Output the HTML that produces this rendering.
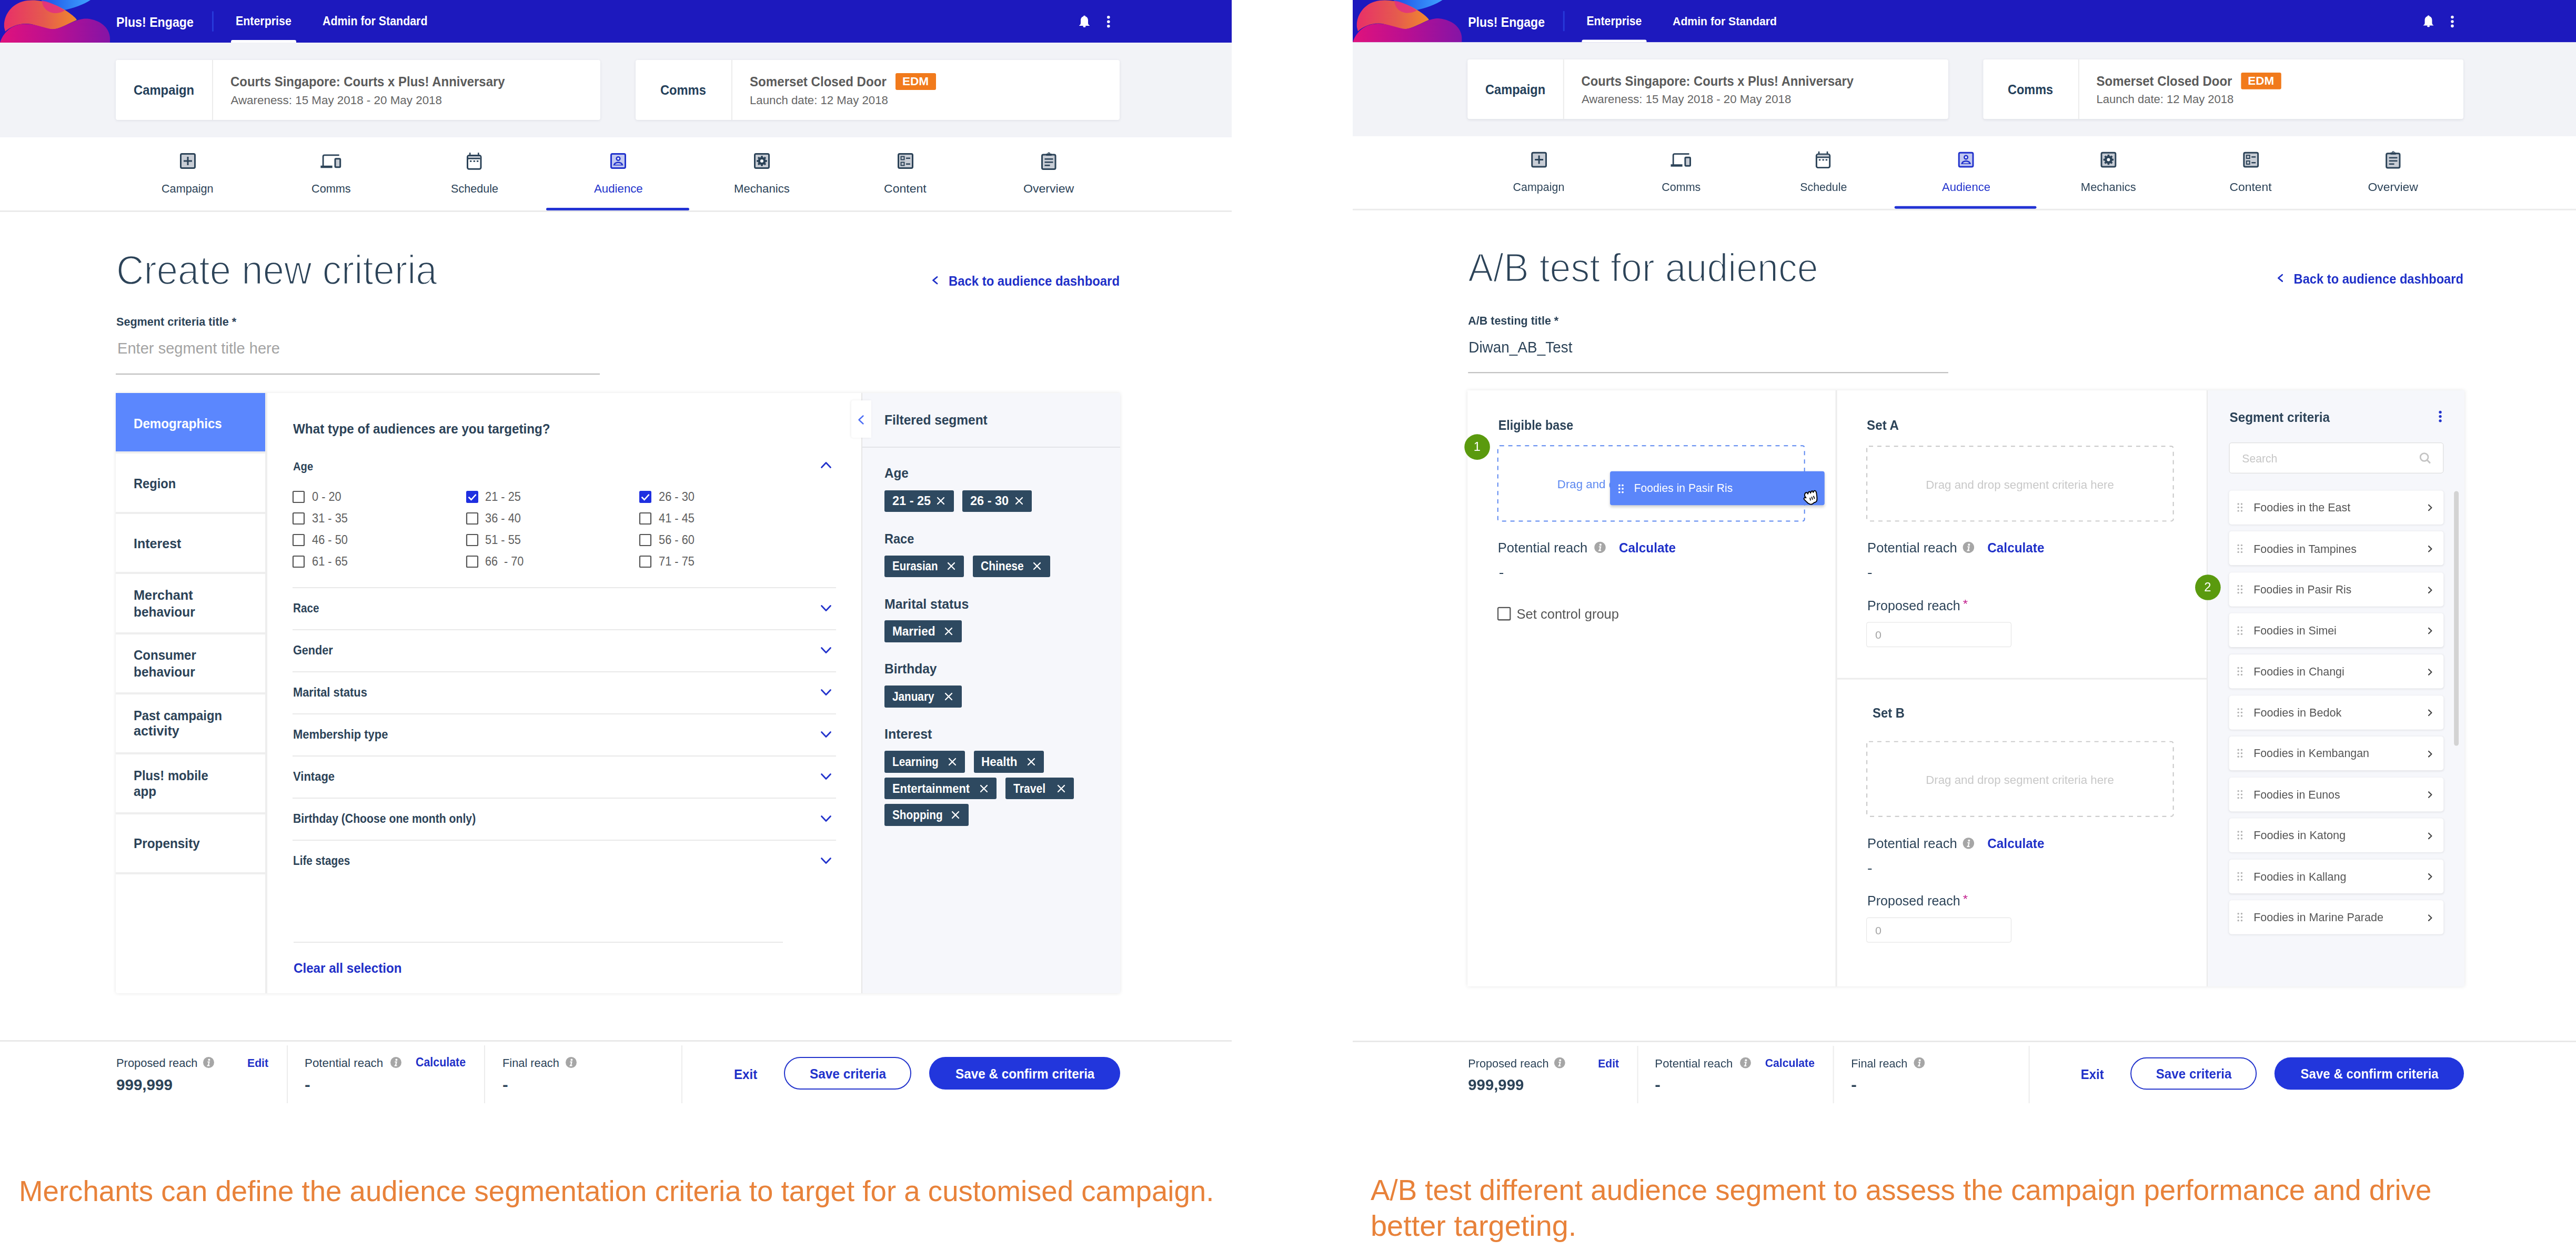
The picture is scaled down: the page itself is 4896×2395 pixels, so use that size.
<!DOCTYPE html><html><head><meta charset="utf-8"><title>Plus! Engage</title><style>
*{margin:0;padding:0}
html,body{width:4896px;height:2395px;background:#fff;overflow:hidden}
body{position:relative;font-family:"Liberation Sans",Arial,sans-serif}
.p{position:absolute;top:0;width:2350px;height:2417px;overflow:hidden;transform-origin:0 0}
.t{position:absolute;white-space:pre;line-height:1;transform-origin:0 0}
.r{position:absolute;display:block}
svg.r{overflow:visible}

</style></head><body>
<div class="p" style="left:0"><div class="r" style="left:0.0px;top:0.0px;width:2341.0px;height:81.3px;background:#1d19be"></div><svg class="r" style="left:0.0px;top:0.0px;" width="210" height="81" viewBox="0 0 210 81"><defs>
<linearGradient id="lgB" x1="0" y1="0" x2="1" y2="0"><stop offset="0" stop-color="#1c4fe6"/><stop offset="1" stop-color="#3ea2ff"/></linearGradient>
<linearGradient id="lgP" x1="0" y1="0" x2="1" y2="0"><stop offset="0" stop-color="#e83068"/><stop offset="0.55" stop-color="#e55a4e"/><stop offset="1" stop-color="#f08a2c"/></linearGradient>
<linearGradient id="lgM" x1="0" y1="0" x2="1" y2="0"><stop offset="0" stop-color="#e0127c"/><stop offset="0.5" stop-color="#b80f92"/><stop offset="1" stop-color="#8514a6"/></linearGradient>
</defs>
<path d="M78 0 L172 0 C160 8 140 16 118 20 C100 22 86 14 78 0 Z" fill="url(#lgB)"/>
<path d="M8 52 C6 28 24 4 52 1 C78 -2 108 8 128 22 C138 29 144 34 146 38 C132 44 118 52 106 55 C92 58 78 50 60 46 C40 42 20 50 10 60 Z" fill="url(#lgP)"/>
<path d="M80 1 C80 14 90 24 104 25 C112 25 118 23 123 20 C112 12 96 4 80 1 Z" fill="#e0288a" opacity="0.75"/>
<path d="M0 81 L1 78 C8 60 24 46 46 45.5 C66 45 80 52 96 55 C108 57 120 50 140 41 C152 36 160 35 166 35.5 C190 38 208 52 209 72 L209 81 Z" fill="url(#lgM)"/></svg><span class="t" style="left:221.0px;top:28.6px;font-size:26.20px;font-weight:700;color:#fff;transform:scaleX(0.8856);">Plus! Engage</span><div class="r" style="left:402.8px;top:21.3px;width:3.4px;height:38.5px;background:#2739d9;border-radius:1.5px"></div><span class="t" style="left:448.0px;top:29.4px;font-size:23.20px;font-weight:700;color:#fff;transform:scaleX(0.9228);">Enterprise</span><div class="r" style="left:439.0px;top:76.3px;width:123.5px;height:5.0px;background:#fff;border-radius:3px 3px 0 0"></div><span class="t" style="left:612.5px;top:29.4px;font-size:23.10px;font-weight:700;color:#fff;transform:scaleX(0.9253);">Admin for Standard</span><svg class="r" style="left:2051.3px;top:29.4px;" width="20" height="23" viewBox="0 0 20 23"><path d="M10 0.5 C11.2 0.5 12 1.3 12 2.3 C15.5 3.3 17 6.3 17 10 L17 15 C17 17 18.5 18.6 20 19.6 L20 20 L0 20 L0 19.6 C1.5 18.6 3 17 3 15 L3 10 C3 6.3 4.5 3.3 8 2.3 C8 1.3 8.8 0.5 10 0.5 Z" fill="#fff"/><ellipse cx="10" cy="21.2" rx="2.6" ry="1.8" fill="#fff"/></svg><svg class="r" style="left:2103.7px;top:29.7px;" width="5.6" height="22.6" viewBox="0 0 5.6 22.6"><circle cx="2.8" cy="2.8" r="2.8" fill="#fff"/><circle cx="2.8" cy="11.3" r="2.8" fill="#fff"/><circle cx="2.8" cy="19.8" r="2.8" fill="#fff"/></svg><div class="r" style="left:0.0px;top:81.3px;width:2341.0px;height:179.7px;background:#f2f3f7"></div><div class="r" style="left:220.4px;top:114.0px;width:920.2px;height:114.0px;background:#fff;border-radius:4px;box-shadow:0 1px 5px rgba(40,50,80,0.10)"></div><div class="r" style="left:402.8px;top:114.0px;width:2.0px;height:114.0px;background:#ececec"></div><span class="t" style="left:254.0px;top:158.0px;font-size:26.00px;font-weight:700;color:#24405a;transform:scaleX(0.9160);">Campaign</span><span class="t" style="left:438.4px;top:141.7px;font-size:26.30px;font-weight:700;color:#5b5b5b;transform:scaleX(0.9098);">Courts Singapore: Courts x Plus! Anniversary</span><span class="t" style="left:438.4px;top:179.6px;font-size:22.40px;font-weight:400;color:#666;">Awareness: 15 May 2018 - 20 May 2018</span><div class="r" style="left:1208.0px;top:114.0px;width:920.0px;height:114.0px;background:#fff;border-radius:4px;box-shadow:0 1px 5px rgba(40,50,80,0.10)"></div><div class="r" style="left:1390.3px;top:114.0px;width:2.0px;height:114.0px;background:#ececec"></div><span class="t" style="left:1255.0px;top:158.0px;font-size:26.00px;font-weight:700;color:#24405a;transform:scaleX(0.9107);">Comms</span><span class="t" style="left:1425.0px;top:142.0px;font-size:26.00px;font-weight:700;color:#5b5b5b;transform:scaleX(0.9269);">Somerset Closed Door</span><div class="r" style="left:1702.0px;top:138.8px;width:76.5px;height:32.2px;background:#f17a1c;border-radius:3px"></div><span class="t" style="left:1715.0px;top:144.4px;font-size:22.00px;font-weight:700;color:#fff;transform:scaleX(1.0262);">EDM</span><span class="t" style="left:1425.0px;top:179.6px;font-size:22.40px;font-weight:400;color:#666;transform:scaleX(0.9913);">Launch date: 12 May 2018</span><div class="r" style="left:0.0px;top:399.8px;width:2341.0px;height:3.0px;background:#ebebeb"></div><div class="r" style="left:1038.0px;top:395.0px;width:272.0px;height:4.6px;background:#2233d4;border-radius:2.5px"></div><svg class="r" style="left:341.5px;top:290.5px;" width="30" height="30" viewBox="0 0 30 30"><rect x="1.5" y="1.5" width="27" height="27" rx="2.5" fill="#c8cdd5" stroke="#2c4358" stroke-width="3"/><path d="M15 7 V23 M7 15 H23" stroke="#2c4358" stroke-width="3"/></svg><span class="t" style="left:307.2px;top:347.5px;font-size:22.60px;font-weight:400;color:#2c4358;transform:scaleX(0.9572);">Campaign</span><svg class="r" style="left:609.3px;top:290.5px;" width="40" height="30" viewBox="0 0 40 30"><path d="M5.1 25 V6.6 Q5.1 3.9 7.8 3.9 H35.7" fill="none" stroke="#2c4358" stroke-width="2.8"/><rect x="0.4" y="23.8" width="22.3" height="4.5" fill="#2c4358"/><rect x="28" y="10.7" width="9.7" height="16.1" rx="1.5" fill="#c8cdd5" stroke="#2c4358" stroke-width="3"/></svg><span class="t" style="left:592.0px;top:347.5px;font-size:22.60px;font-weight:400;color:#2c4358;transform:scaleX(0.9589);">Comms</span><svg class="r" style="left:887.3px;top:290.2px;" width="29" height="32.5" viewBox="0 0 29 32.5"><rect x="1.5" y="5.5" width="25.5" height="25.7" rx="3" fill="#fff" stroke="#2c4358" stroke-width="3"/><rect x="3" y="7" width="22.5" height="3" fill="#c8cdd5"/><rect x="3" y="10" width="22.5" height="2.7" fill="#2c4358"/><rect x="4.9" y="0.2" width="2.6" height="5.5" fill="#2c4358"/><rect x="21" y="0.2" width="2.6" height="5.5" fill="#2c4358"/><rect x="6" y="15" width="3.4" height="2.7" fill="#2c4358"/><rect x="12.7" y="15" width="3.4" height="2.7" fill="#2c4358"/><rect x="19" y="15" width="3.4" height="2.7" fill="#2c4358"/></svg><span class="t" style="left:857.1px;top:347.5px;font-size:22.60px;font-weight:400;color:#2c4358;transform:scaleX(0.9555);">Schedule</span><svg class="r" style="left:1159.9px;top:290.5px;" width="30" height="30" viewBox="0 0 30 30"><rect x="1.5" y="1.5" width="27" height="27" rx="2.5" fill="#c3c9f0" stroke="#2233cc" stroke-width="3"/><circle cx="15" cy="10.5" r="3.3" fill="#fff" stroke="#2233cc" stroke-width="2.6"/><path d="M5.5 23.5 C6.5 18.5 10 16.5 15 16.5 C20 16.5 23.5 18.5 24.5 23.5 Z" fill="#2233cc"/><path d="M9 22 C10 19.8 12 19 15 19 C18 19 20 19.8 21 22 Z" fill="#c3c9f0"/></svg><span class="t" style="left:1128.5px;top:347.5px;font-size:22.60px;font-weight:400;color:#2233cc;transform:scaleX(0.9843);">Audience</span><svg class="r" style="left:1432.7px;top:290.5px;" width="30" height="30" viewBox="0 0 30 30"><rect x="1.5" y="1.5" width="27" height="27" rx="2.5" fill="#c8cdd5" stroke="#2c4358" stroke-width="3"/><circle cx="15" cy="15" r="7.6" fill="#2c4358"/><rect x="13.2" y="5.2" width="3.6" height="4" fill="#2c4358" transform="rotate(0 15 15)"/><rect x="13.2" y="5.2" width="3.6" height="4" fill="#2c4358" transform="rotate(45 15 15)"/><rect x="13.2" y="5.2" width="3.6" height="4" fill="#2c4358" transform="rotate(90 15 15)"/><rect x="13.2" y="5.2" width="3.6" height="4" fill="#2c4358" transform="rotate(135 15 15)"/><rect x="13.2" y="5.2" width="3.6" height="4" fill="#2c4358" transform="rotate(180 15 15)"/><rect x="13.2" y="5.2" width="3.6" height="4" fill="#2c4358" transform="rotate(225 15 15)"/><rect x="13.2" y="5.2" width="3.6" height="4" fill="#2c4358" transform="rotate(270 15 15)"/><rect x="13.2" y="5.2" width="3.6" height="4" fill="#2c4358" transform="rotate(315 15 15)"/><circle cx="15" cy="15" r="3" fill="#fff"/></svg><span class="t" style="left:1394.8px;top:347.5px;font-size:22.60px;font-weight:400;color:#2c4358;transform:scaleX(0.9795);">Mechanics</span><svg class="r" style="left:1705.5px;top:290.5px;" width="30" height="30" viewBox="0 0 30 30"><rect x="1.5" y="1.5" width="27" height="27" rx="2.5" fill="#c8cdd5" stroke="#2c4358" stroke-width="3"/><rect x="6.5" y="6.5" width="6" height="6" fill="none" stroke="#2c4358" stroke-width="2"/><rect x="6.5" y="17.5" width="6" height="6" fill="none" stroke="#2c4358" stroke-width="2"/><rect x="16" y="8.5" width="8" height="2.5" fill="#2c4358"/><rect x="16" y="19.5" width="8" height="2.5" fill="#2c4358"/></svg><span class="t" style="left:1680.2px;top:347.5px;font-size:22.60px;font-weight:400;color:#2c4358;transform:scaleX(1.0191);">Content</span><svg class="r" style="left:1979.1px;top:289.8px;" width="28.5" height="32" viewBox="0 0 28.5 32"><rect x="1.5" y="4" width="25.5" height="27.5" rx="2.5" fill="#c8cdd5" stroke="#2c4358" stroke-width="3"/><rect x="9" y="2" width="11" height="4" rx="1" fill="#2c4358"/><circle cx="14.5" cy="2" r="1.8" fill="none" stroke="#2c4358" stroke-width="1.5"/><rect x="6.5" y="11" width="16" height="2.6" fill="#2c4358"/><rect x="6.5" y="17" width="16" height="2.6" fill="#2c4358"/><rect x="6.5" y="23" width="10" height="2.6" fill="#2c4358"/></svg><span class="t" style="left:1945.2px;top:347.5px;font-size:22.60px;font-weight:400;color:#2c4358;transform:scaleX(1.0214);">Overview</span><span class="t" style="left:220.5px;top:473.5px;font-size:78.00px;font-weight:400;color:#2c4358;transform:scaleX(0.9315);-webkit-text-stroke:2.3px #fff;paint-order:fill stroke;">Create new criteria</span><svg class="r" style="left:1772.0px;top:525.0px;" width="10.5" height="15.5" viewBox="0 0 10.5 15.5"><path d="M9.0 1.5 L1.5 7.75 L9.0 14.0" fill="none" stroke="#1f30c8" stroke-width="2.8" stroke-linecap="round" stroke-linejoin="round"/></svg><span class="t" style="left:1802.8px;top:521.0px;font-size:26.00px;font-weight:700;color:#1f30c8;transform:scaleX(0.9180);">Back to audience dashboard</span><span class="t" style="left:220.8px;top:600.3px;font-size:22.80px;font-weight:700;color:#2c4358;transform:scaleX(0.9477);">Segment criteria title *</span><span class="t" style="left:222.6px;top:647.2px;font-size:29.30px;font-weight:400;color:#a3a3a3;transform:scaleX(0.9933);">Enter segment title here</span><div class="r" style="left:220.0px;top:709.5px;width:920.0px;height:2.0px;background:#b9b9b9"></div><div class="r" style="left:220.0px;top:747.0px;width:1909.0px;height:1141.0px;background:#fff;border-radius:4px;box-shadow:0 0 7px rgba(0,0,0,0.10)"></div><div class="r" style="left:220.0px;top:747.0px;width:284.0px;height:111.0px;background:#5b87fe"></div><div class="r" style="left:220.0px;top:858.0px;width:284.0px;height:4.0px;background:#eeeeee"></div><div class="r" style="left:220.0px;top:972.6px;width:284.0px;height:4.0px;background:#eeeeee"></div><div class="r" style="left:220.0px;top:1087.0px;width:284.0px;height:4.0px;background:#eeeeee"></div><div class="r" style="left:220.0px;top:1201.6px;width:284.0px;height:4.0px;background:#eeeeee"></div><div class="r" style="left:220.0px;top:1315.5px;width:284.0px;height:4.0px;background:#eeeeee"></div><div class="r" style="left:220.0px;top:1430.0px;width:284.0px;height:4.0px;background:#eeeeee"></div><div class="r" style="left:220.0px;top:1544.0px;width:284.0px;height:4.0px;background:#eeeeee"></div><div class="r" style="left:220.0px;top:1658.0px;width:284.0px;height:4.0px;background:#eeeeee"></div><div class="r" style="left:504.0px;top:747.0px;width:3.5px;height:1141.0px;background:#eeeeee"></div><span class="t" style="left:253.6px;top:791.8px;font-size:26.20px;font-weight:700;color:#fff;transform:scaleX(0.9221);">Demographics</span><span class="t" style="left:253.6px;top:905.8px;font-size:26.20px;font-weight:700;color:#2c4358;transform:scaleX(0.9041);">Region</span><span class="t" style="left:253.6px;top:1019.5px;font-size:26.20px;font-weight:700;color:#2c4358;transform:scaleX(0.9556);">Interest</span><span class="t" style="left:253.6px;top:1117.5px;font-size:26.20px;font-weight:700;color:#2c4358;transform:scaleX(0.9683);">Merchant</span><span class="t" style="left:253.6px;top:1150.0px;font-size:26.20px;font-weight:700;color:#2c4358;transform:scaleX(0.9321);">behaviour</span><span class="t" style="left:253.6px;top:1231.5px;font-size:26.20px;font-weight:700;color:#2c4358;transform:scaleX(0.9175);">Consumer</span><span class="t" style="left:253.6px;top:1263.8px;font-size:26.20px;font-weight:700;color:#2c4358;transform:scaleX(0.9321);">behaviour</span><span class="t" style="left:253.6px;top:1347.1px;font-size:26.20px;font-weight:700;color:#2c4358;transform:scaleX(0.9087);">Past campaign</span><span class="t" style="left:253.6px;top:1376.4px;font-size:26.20px;font-weight:700;color:#2c4358;transform:scaleX(0.9617);">activity</span><span class="t" style="left:253.6px;top:1461.4px;font-size:26.20px;font-weight:700;color:#2c4358;transform:scaleX(0.9099);">Plus! mobile</span><span class="t" style="left:253.6px;top:1490.7px;font-size:26.20px;font-weight:700;color:#2c4358;transform:scaleX(0.9244);">app</span><span class="t" style="left:253.6px;top:1589.8px;font-size:26.20px;font-weight:700;color:#2c4358;transform:scaleX(0.9293);">Propensity</span><span class="t" style="left:557.0px;top:802.0px;font-size:26.00px;font-weight:700;color:#2c4358;transform:scaleX(0.9317);">What type of audiences are you targeting?</span><span class="t" style="left:557.0px;top:875.5px;font-size:21.80px;font-weight:700;color:#2c4358;transform:scaleX(0.9250);">Age</span><svg class="r" style="left:1560.0px;top:878.0px;" width="20" height="12" viewBox="0 0 20 12"><path d="M1.5 10.5 L10.0 1.5 L18.5 10.5" fill="none" stroke="#2233cc" stroke-width="2.8" stroke-linecap="round" stroke-linejoin="round"/></svg><svg class="r" style="left:555.8px;top:932.9px;" width="23" height="23" viewBox="0 0 23 23"><rect x="1" y="1" width="21" height="21" rx="1.5" fill="#fff" stroke="#555" stroke-width="2.2"/></svg><span class="t" style="left:593.0px;top:933.1px;font-size:23.00px;font-weight:400;color:#606060;transform:scaleX(0.9456);">0 - 20</span><svg class="r" style="left:555.8px;top:973.8px;" width="23" height="23" viewBox="0 0 23 23"><rect x="1" y="1" width="21" height="21" rx="1.5" fill="#fff" stroke="#555" stroke-width="2.2"/></svg><span class="t" style="left:593.0px;top:974.0px;font-size:23.00px;font-weight:400;color:#606060;transform:scaleX(0.9484);">31 - 35</span><svg class="r" style="left:555.8px;top:1014.7px;" width="23" height="23" viewBox="0 0 23 23"><rect x="1" y="1" width="21" height="21" rx="1.5" fill="#fff" stroke="#555" stroke-width="2.2"/></svg><span class="t" style="left:593.0px;top:1014.9px;font-size:23.00px;font-weight:400;color:#606060;transform:scaleX(0.9484);">46 - 50</span><svg class="r" style="left:555.8px;top:1055.6px;" width="23" height="23" viewBox="0 0 23 23"><rect x="1" y="1" width="21" height="21" rx="1.5" fill="#fff" stroke="#555" stroke-width="2.2"/></svg><span class="t" style="left:593.0px;top:1055.8px;font-size:23.00px;font-weight:400;color:#606060;transform:scaleX(0.9484);">61 - 65</span><svg class="r" style="left:885.8px;top:932.9px;" width="23" height="23" viewBox="0 0 23 23"><rect x="0" y="0" width="23" height="23" rx="2.5" fill="#1f2fe0"/><path d="M4.60 11.73 L9.66 16.79 L18.63 6.90" fill="none" stroke="#fff" stroke-width="2.6"/></svg><span class="t" style="left:922.0px;top:933.1px;font-size:23.00px;font-weight:400;color:#606060;transform:scaleX(0.9484);">21 - 25</span><svg class="r" style="left:885.8px;top:973.8px;" width="23" height="23" viewBox="0 0 23 23"><rect x="1" y="1" width="21" height="21" rx="1.5" fill="#fff" stroke="#555" stroke-width="2.2"/></svg><span class="t" style="left:922.0px;top:974.0px;font-size:23.00px;font-weight:400;color:#606060;transform:scaleX(0.9484);">36 - 40</span><svg class="r" style="left:885.8px;top:1014.7px;" width="23" height="23" viewBox="0 0 23 23"><rect x="1" y="1" width="21" height="21" rx="1.5" fill="#fff" stroke="#555" stroke-width="2.2"/></svg><span class="t" style="left:922.0px;top:1014.9px;font-size:23.00px;font-weight:400;color:#606060;transform:scaleX(0.9484);">51 - 55</span><svg class="r" style="left:885.8px;top:1055.6px;" width="23" height="23" viewBox="0 0 23 23"><rect x="1" y="1" width="21" height="21" rx="1.5" fill="#fff" stroke="#555" stroke-width="2.2"/></svg><span class="t" style="left:922.0px;top:1055.8px;font-size:23.00px;font-weight:400;color:#606060;transform:scaleX(0.9403);">66  - 70</span><svg class="r" style="left:1215.3px;top:932.9px;" width="23" height="23" viewBox="0 0 23 23"><rect x="0" y="0" width="23" height="23" rx="2.5" fill="#1f2fe0"/><path d="M4.60 11.73 L9.66 16.79 L18.63 6.90" fill="none" stroke="#fff" stroke-width="2.6"/></svg><span class="t" style="left:1252.0px;top:933.1px;font-size:23.00px;font-weight:400;color:#606060;transform:scaleX(0.9484);">26 - 30</span><svg class="r" style="left:1215.3px;top:973.8px;" width="23" height="23" viewBox="0 0 23 23"><rect x="1" y="1" width="21" height="21" rx="1.5" fill="#fff" stroke="#555" stroke-width="2.2"/></svg><span class="t" style="left:1252.0px;top:974.0px;font-size:23.00px;font-weight:400;color:#606060;transform:scaleX(0.9484);">41 - 45</span><svg class="r" style="left:1215.3px;top:1014.7px;" width="23" height="23" viewBox="0 0 23 23"><rect x="1" y="1" width="21" height="21" rx="1.5" fill="#fff" stroke="#555" stroke-width="2.2"/></svg><span class="t" style="left:1252.0px;top:1014.9px;font-size:23.00px;font-weight:400;color:#606060;transform:scaleX(0.9484);">56 - 60</span><svg class="r" style="left:1215.3px;top:1055.6px;" width="23" height="23" viewBox="0 0 23 23"><rect x="1" y="1" width="21" height="21" rx="1.5" fill="#fff" stroke="#555" stroke-width="2.2"/></svg><span class="t" style="left:1252.0px;top:1055.8px;font-size:23.00px;font-weight:400;color:#606060;transform:scaleX(0.9484);">71 - 75</span><div class="r" style="left:556.0px;top:1116.0px;width:1033.0px;height:2.0px;background:#e9e9e9"></div><div class="r" style="left:556.0px;top:1195.6px;width:1033.0px;height:2.0px;background:#e9e9e9"></div><div class="r" style="left:556.0px;top:1275.8px;width:1033.0px;height:2.0px;background:#e9e9e9"></div><div class="r" style="left:556.0px;top:1356.0px;width:1033.0px;height:2.0px;background:#e9e9e9"></div><div class="r" style="left:556.0px;top:1436.0px;width:1033.0px;height:2.0px;background:#e9e9e9"></div><div class="r" style="left:556.0px;top:1516.0px;width:1033.0px;height:2.0px;background:#e9e9e9"></div><div class="r" style="left:556.0px;top:1595.7px;width:1033.0px;height:2.0px;background:#e9e9e9"></div><span class="t" style="left:556.8px;top:1145.2px;font-size:23.00px;font-weight:700;color:#2c4358;transform:scaleX(0.8991);">Race</span><svg class="r" style="left:1560.0px;top:1150.2px;" width="20" height="12" viewBox="0 0 20 12"><path d="M1.5 1.5 L10.0 10.5 L18.5 1.5" fill="none" stroke="#2233cc" stroke-width="2.8" stroke-linecap="round" stroke-linejoin="round"/></svg><span class="t" style="left:556.8px;top:1224.9px;font-size:23.00px;font-weight:700;color:#2c4358;transform:scaleX(0.9404);">Gender</span><svg class="r" style="left:1560.0px;top:1229.9px;" width="20" height="12" viewBox="0 0 20 12"><path d="M1.5 1.5 L10.0 10.5 L18.5 1.5" fill="none" stroke="#2233cc" stroke-width="2.8" stroke-linecap="round" stroke-linejoin="round"/></svg><span class="t" style="left:556.8px;top:1305.1px;font-size:23.00px;font-weight:700;color:#2c4358;transform:scaleX(0.9501);">Marital status</span><svg class="r" style="left:1560.0px;top:1310.1px;" width="20" height="12" viewBox="0 0 20 12"><path d="M1.5 1.5 L10.0 10.5 L18.5 1.5" fill="none" stroke="#2233cc" stroke-width="2.8" stroke-linecap="round" stroke-linejoin="round"/></svg><span class="t" style="left:556.8px;top:1385.1px;font-size:23.00px;font-weight:700;color:#2c4358;transform:scaleX(0.9537);">Membership type</span><svg class="r" style="left:1560.0px;top:1390.1px;" width="20" height="12" viewBox="0 0 20 12"><path d="M1.5 1.5 L10.0 10.5 L18.5 1.5" fill="none" stroke="#2233cc" stroke-width="2.8" stroke-linecap="round" stroke-linejoin="round"/></svg><span class="t" style="left:556.8px;top:1464.9px;font-size:23.00px;font-weight:700;color:#2c4358;transform:scaleX(0.9566);">Vintage</span><svg class="r" style="left:1560.0px;top:1469.9px;" width="20" height="12" viewBox="0 0 20 12"><path d="M1.5 1.5 L10.0 10.5 L18.5 1.5" fill="none" stroke="#2233cc" stroke-width="2.8" stroke-linecap="round" stroke-linejoin="round"/></svg><span class="t" style="left:556.8px;top:1544.5px;font-size:23.00px;font-weight:700;color:#2c4358;transform:scaleX(0.9211);">Birthday (Choose one month only)</span><svg class="r" style="left:1560.0px;top:1549.5px;" width="20" height="12" viewBox="0 0 20 12"><path d="M1.5 1.5 L10.0 10.5 L18.5 1.5" fill="none" stroke="#2233cc" stroke-width="2.8" stroke-linecap="round" stroke-linejoin="round"/></svg><span class="t" style="left:556.8px;top:1625.1px;font-size:23.00px;font-weight:700;color:#2c4358;transform:scaleX(0.9010);">Life stages</span><svg class="r" style="left:1560.0px;top:1630.1px;" width="20" height="12" viewBox="0 0 20 12"><path d="M1.5 1.5 L10.0 10.5 L18.5 1.5" fill="none" stroke="#2233cc" stroke-width="2.8" stroke-linecap="round" stroke-linejoin="round"/></svg><div class="r" style="left:558.0px;top:1789.5px;width:930.0px;height:2.0px;background:#e9e9e9"></div><span class="t" style="left:558.0px;top:1826.7px;font-size:26.30px;font-weight:700;color:#1f30c8;transform:scaleX(0.9189);">Clear all selection</span><div class="r" style="left:1638.0px;top:747.0px;width:491.0px;height:1141.0px;background:#f6f7fb"></div><div class="r" style="left:1637.0px;top:747.0px;width:2.0px;height:1141.0px;background:#e6e6e6"></div><div class="r" style="left:1638.0px;top:848.5px;width:491.0px;height:2.0px;background:#e4e5e9"></div><div class="r" style="left:1618.0px;top:761.0px;width:38.0px;height:71.0px;background:#fff;border-radius:4px 0 0 4px;box-shadow:-1px 0 4px rgba(0,0,0,0.08)"></div><svg class="r" style="left:1631.0px;top:788.6px;" width="11" height="18" viewBox="0 0 11 18"><path d="M9.5 1.5 L1.5 9.0 L9.5 16.5" fill="none" stroke="#4d6ef5" stroke-width="2.4" stroke-linecap="round" stroke-linejoin="round"/></svg><span class="t" style="left:1681.0px;top:785.4px;font-size:26.20px;font-weight:700;color:#2c4358;transform:scaleX(0.9341);">Filtered segment</span><span class="t" style="left:1681.0px;top:885.8px;font-size:26.20px;font-weight:700;color:#2c4358;transform:scaleX(0.9250);">Age</span><span class="t" style="left:1681.0px;top:1010.8px;font-size:26.20px;font-weight:700;color:#2c4358;transform:scaleX(0.8991);">Race</span><span class="t" style="left:1681.0px;top:1134.5px;font-size:26.20px;font-weight:700;color:#2c4358;transform:scaleX(0.9501);">Marital status</span><span class="t" style="left:1681.0px;top:1258.3px;font-size:26.20px;font-weight:700;color:#2c4358;transform:scaleX(0.9369);">Birthday</span><span class="t" style="left:1681.0px;top:1382.2px;font-size:26.20px;font-weight:700;color:#2c4358;transform:scaleX(0.9556);">Interest</span><div class="r" style="left:1681.0px;top:931.5px;width:131.5px;height:41.5px;background:#2e4960;border-radius:3px"></div><span class="t" style="left:1695.5px;top:941.2px;font-size:23.00px;font-weight:700;color:#fff;transform:scaleX(1.0211);">21 - 25</span><svg class="r" style="left:1781.0px;top:945.3px;" width="14" height="14" viewBox="0 0 14 14"><path d="M1 1 L13 13 M13 1 L1 13" stroke="#fff" stroke-width="2.3" stroke-linecap="round"/></svg><div class="r" style="left:1829.0px;top:931.5px;width:132.0px;height:41.5px;background:#2e4960;border-radius:3px"></div><span class="t" style="left:1843.5px;top:941.2px;font-size:23.00px;font-weight:700;color:#fff;transform:scaleX(1.0211);">26 - 30</span><svg class="r" style="left:1929.5px;top:945.3px;" width="14" height="14" viewBox="0 0 14 14"><path d="M1 1 L13 13 M13 1 L1 13" stroke="#fff" stroke-width="2.3" stroke-linecap="round"/></svg><div class="r" style="left:1681.0px;top:1055.6px;width:151.0px;height:41.5px;background:#2e4960;border-radius:3px"></div><span class="t" style="left:1695.5px;top:1065.3px;font-size:23.00px;font-weight:700;color:#fff;transform:scaleX(0.8905);">Eurasian</span><svg class="r" style="left:1800.5px;top:1069.4px;" width="14" height="14" viewBox="0 0 14 14"><path d="M1 1 L13 13 M13 1 L1 13" stroke="#fff" stroke-width="2.3" stroke-linecap="round"/></svg><div class="r" style="left:1849.0px;top:1055.6px;width:146.6px;height:41.5px;background:#2e4960;border-radius:3px"></div><span class="t" style="left:1863.5px;top:1065.3px;font-size:23.00px;font-weight:700;color:#fff;transform:scaleX(0.9128);">Chinese</span><svg class="r" style="left:1964.1px;top:1069.4px;" width="14" height="14" viewBox="0 0 14 14"><path d="M1 1 L13 13 M13 1 L1 13" stroke="#fff" stroke-width="2.3" stroke-linecap="round"/></svg><div class="r" style="left:1681.0px;top:1179.4px;width:146.8px;height:41.5px;background:#2e4960;border-radius:3px"></div><span class="t" style="left:1695.5px;top:1189.1px;font-size:23.00px;font-weight:700;color:#fff;transform:scaleX(0.9802);">Married</span><svg class="r" style="left:1796.3px;top:1193.2px;" width="14" height="14" viewBox="0 0 14 14"><path d="M1 1 L13 13 M13 1 L1 13" stroke="#fff" stroke-width="2.3" stroke-linecap="round"/></svg><div class="r" style="left:1681.0px;top:1303.0px;width:146.8px;height:41.5px;background:#2e4960;border-radius:3px"></div><span class="t" style="left:1695.5px;top:1312.7px;font-size:23.00px;font-weight:700;color:#fff;transform:scaleX(0.9008);">January</span><svg class="r" style="left:1796.3px;top:1316.8px;" width="14" height="14" viewBox="0 0 14 14"><path d="M1 1 L13 13 M13 1 L1 13" stroke="#fff" stroke-width="2.3" stroke-linecap="round"/></svg><div class="r" style="left:1681.0px;top:1427.0px;width:153.0px;height:41.5px;background:#2e4960;border-radius:3px"></div><span class="t" style="left:1695.5px;top:1436.7px;font-size:23.00px;font-weight:700;color:#fff;transform:scaleX(0.9041);">Learning</span><svg class="r" style="left:1802.5px;top:1440.8px;" width="14" height="14" viewBox="0 0 14 14"><path d="M1 1 L13 13 M13 1 L1 13" stroke="#fff" stroke-width="2.3" stroke-linecap="round"/></svg><div class="r" style="left:1850.5px;top:1427.0px;width:133.5px;height:41.5px;background:#2e4960;border-radius:3px"></div><span class="t" style="left:1865.0px;top:1436.7px;font-size:23.00px;font-weight:700;color:#fff;transform:scaleX(0.9754);">Health</span><svg class="r" style="left:1952.5px;top:1440.8px;" width="14" height="14" viewBox="0 0 14 14"><path d="M1 1 L13 13 M13 1 L1 13" stroke="#fff" stroke-width="2.3" stroke-linecap="round"/></svg><div class="r" style="left:1681.0px;top:1477.8px;width:213.0px;height:41.5px;background:#2e4960;border-radius:3px"></div><span class="t" style="left:1695.5px;top:1487.5px;font-size:23.00px;font-weight:700;color:#fff;transform:scaleX(0.9510);">Entertainment</span><svg class="r" style="left:1862.5px;top:1491.6px;" width="14" height="14" viewBox="0 0 14 14"><path d="M1 1 L13 13 M13 1 L1 13" stroke="#fff" stroke-width="2.3" stroke-linecap="round"/></svg><div class="r" style="left:1911.0px;top:1477.8px;width:130.0px;height:41.5px;background:#2e4960;border-radius:3px"></div><span class="t" style="left:1925.5px;top:1487.5px;font-size:23.00px;font-weight:700;color:#fff;transform:scaleX(0.9184);">Travel</span><svg class="r" style="left:2009.5px;top:1491.6px;" width="14" height="14" viewBox="0 0 14 14"><path d="M1 1 L13 13 M13 1 L1 13" stroke="#fff" stroke-width="2.3" stroke-linecap="round"/></svg><div class="r" style="left:1681.0px;top:1528.0px;width:159.6px;height:41.5px;background:#2e4960;border-radius:3px"></div><span class="t" style="left:1695.5px;top:1537.7px;font-size:23.00px;font-weight:700;color:#fff;transform:scaleX(0.9028);">Shopping</span><svg class="r" style="left:1809.1px;top:1541.8px;" width="14" height="14" viewBox="0 0 14 14"><path d="M1 1 L13 13 M13 1 L1 13" stroke="#fff" stroke-width="2.3" stroke-linecap="round"/></svg><div class="r" style="left:0.0px;top:1977.0px;width:2341.0px;height:3.0px;background:#e9e9e9"></div><span class="t" style="left:221.0px;top:2008.8px;font-size:22.70px;font-weight:400;color:#2c4358;transform:scaleX(0.9645);">Proposed reach</span><svg class="r" style="left:385.6px;top:2009.2px;" width="21.0" height="21.0" viewBox="0 0 21.0 21.0"><circle cx="10.5" cy="10.5" r="10.5" fill="#a6a6a6"/><g transform="scale(1.000)"><circle cx="11.4" cy="5.6" r="2" fill="#fff"/><path d="M8.6 8.6 L12.9 8.6 L11.2 15.6 L12.8 15.6 L12.4 17.4 L7.4 17.4 L7.8 15.6 L8.9 15.6 L10.2 10.4 L8.2 10.4 Z" fill="#fff"/></g></svg><span class="t" style="left:470.4px;top:2008.6px;font-size:22.90px;font-weight:700;color:#1f30c8;transform:scaleX(0.9268);">Edit</span><span class="t" style="left:221.0px;top:2047.6px;font-size:28.80px;font-weight:700;color:#2c4358;transform:scaleX(1.0274);">999,999</span><div class="r" style="left:545.0px;top:1987.0px;width:2.0px;height:110.0px;background:#ececec"></div><span class="t" style="left:578.5px;top:2008.8px;font-size:22.70px;font-weight:400;color:#2c4358;transform:scaleX(0.9857);">Potential reach</span><svg class="r" style="left:741.8px;top:2009.2px;" width="21.0" height="21.0" viewBox="0 0 21.0 21.0"><circle cx="10.5" cy="10.5" r="10.5" fill="#a6a6a6"/><g transform="scale(1.000)"><circle cx="11.4" cy="5.6" r="2" fill="#fff"/><path d="M8.6 8.6 L12.9 8.6 L11.2 15.6 L12.8 15.6 L12.4 17.4 L7.4 17.4 L7.8 15.6 L8.9 15.6 L10.2 10.4 L8.2 10.4 Z" fill="#fff"/></g></svg><span class="t" style="left:790.0px;top:2008.4px;font-size:23.10px;font-weight:700;color:#1f30c8;transform:scaleX(0.9254);">Calculate</span><span class="t" style="left:578.5px;top:2047.6px;font-size:28.80px;font-weight:700;color:#2c4358;transform:scaleX(1.1199);">-</span><div class="r" style="left:920.0px;top:1987.0px;width:2.0px;height:110.0px;background:#ececec"></div><span class="t" style="left:955.0px;top:2008.8px;font-size:22.70px;font-weight:400;color:#2c4358;transform:scaleX(0.9611);">Final reach</span><svg class="r" style="left:1074.5px;top:2009.2px;" width="21.0" height="21.0" viewBox="0 0 21.0 21.0"><circle cx="10.5" cy="10.5" r="10.5" fill="#a6a6a6"/><g transform="scale(1.000)"><circle cx="11.4" cy="5.6" r="2" fill="#fff"/><path d="M8.6 8.6 L12.9 8.6 L11.2 15.6 L12.8 15.6 L12.4 17.4 L7.4 17.4 L7.8 15.6 L8.9 15.6 L10.2 10.4 L8.2 10.4 Z" fill="#fff"/></g></svg><span class="t" style="left:955.0px;top:2047.6px;font-size:28.80px;font-weight:700;color:#2c4358;transform:scaleX(1.1199);">-</span><div class="r" style="left:1295.4px;top:1987.0px;width:2.0px;height:110.0px;background:#ececec"></div><span class="t" style="left:1394.7px;top:2030.2px;font-size:25.70px;font-weight:700;color:#1f30c8;transform:scaleX(0.9395);">Exit</span><div class="r" style="left:1490.0px;top:2009.0px;width:242.4px;height:62.4px;box-sizing:border-box;border:2.2px solid #2233cc;border-radius:32px;background:#fff"></div><span class="t" style="left:1539.0px;top:2028.1px;font-size:26.50px;font-weight:700;color:#2233cc;transform:scaleX(0.9198);">Save criteria</span><div class="r" style="left:1766.0px;top:2009.0px;width:363.0px;height:62.4px;background:#2236dc;border-radius:32px"></div><span class="t" style="left:1815.7px;top:2028.3px;font-size:26.20px;font-weight:700;color:#fff;transform:scaleX(0.9267);">Save &amp; confirm criteria</span></div>
<div class="p" style="left:2571px;transform:scale(0.992)"><div class="r" style="left:0.0px;top:0.0px;width:2350.0px;height:81.3px;background:#1d19be"></div><svg class="r" style="left:0.0px;top:0.0px;" width="210" height="81" viewBox="0 0 210 81"><defs>
<linearGradient id="lgB" x1="0" y1="0" x2="1" y2="0"><stop offset="0" stop-color="#1c4fe6"/><stop offset="1" stop-color="#3ea2ff"/></linearGradient>
<linearGradient id="lgP" x1="0" y1="0" x2="1" y2="0"><stop offset="0" stop-color="#e83068"/><stop offset="0.55" stop-color="#e55a4e"/><stop offset="1" stop-color="#f08a2c"/></linearGradient>
<linearGradient id="lgM" x1="0" y1="0" x2="1" y2="0"><stop offset="0" stop-color="#e0127c"/><stop offset="0.5" stop-color="#b80f92"/><stop offset="1" stop-color="#8514a6"/></linearGradient>
</defs>
<path d="M78 0 L172 0 C160 8 140 16 118 20 C100 22 86 14 78 0 Z" fill="url(#lgB)"/>
<path d="M8 52 C6 28 24 4 52 1 C78 -2 108 8 128 22 C138 29 144 34 146 38 C132 44 118 52 106 55 C92 58 78 50 60 46 C40 42 20 50 10 60 Z" fill="url(#lgP)"/>
<path d="M80 1 C80 14 90 24 104 25 C112 25 118 23 123 20 C112 12 96 4 80 1 Z" fill="#e0288a" opacity="0.75"/>
<path d="M0 81 L1 78 C8 60 24 46 46 45.5 C66 45 80 52 96 55 C108 57 120 50 140 41 C152 36 160 35 166 35.5 C190 38 208 52 209 72 L209 81 Z" fill="url(#lgM)"/></svg><span class="t" style="left:221.0px;top:28.6px;font-size:26.20px;font-weight:700;color:#fff;transform:scaleX(0.8856);">Plus! Engage</span><div class="r" style="left:402.8px;top:21.3px;width:3.4px;height:38.5px;background:#2739d9;border-radius:1.5px"></div><span class="t" style="left:448.0px;top:29.4px;font-size:23.20px;font-weight:700;color:#fff;transform:scaleX(0.9228);">Enterprise</span><div class="r" style="left:439.0px;top:76.3px;width:123.5px;height:5.0px;background:#fff;border-radius:3px 3px 0 0"></div><span class="t" style="left:612.5px;top:29.4px;font-size:23.10px;font-weight:700;color:#fff;transform:scaleX(0.9253);">Admin for Standard</span><svg class="r" style="left:2051.3px;top:29.4px;" width="20" height="23" viewBox="0 0 20 23"><path d="M10 0.5 C11.2 0.5 12 1.3 12 2.3 C15.5 3.3 17 6.3 17 10 L17 15 C17 17 18.5 18.6 20 19.6 L20 20 L0 20 L0 19.6 C1.5 18.6 3 17 3 15 L3 10 C3 6.3 4.5 3.3 8 2.3 C8 1.3 8.8 0.5 10 0.5 Z" fill="#fff"/><ellipse cx="10" cy="21.2" rx="2.6" ry="1.8" fill="#fff"/></svg><svg class="r" style="left:2103.7px;top:29.7px;" width="5.6" height="22.6" viewBox="0 0 5.6 22.6"><circle cx="2.8" cy="2.8" r="2.8" fill="#fff"/><circle cx="2.8" cy="11.3" r="2.8" fill="#fff"/><circle cx="2.8" cy="19.8" r="2.8" fill="#fff"/></svg><div class="r" style="left:0.0px;top:81.3px;width:2350.0px;height:179.7px;background:#f2f3f7"></div><div class="r" style="left:220.4px;top:114.0px;width:920.2px;height:114.0px;background:#fff;border-radius:4px;box-shadow:0 1px 5px rgba(40,50,80,0.10)"></div><div class="r" style="left:402.8px;top:114.0px;width:2.0px;height:114.0px;background:#ececec"></div><span class="t" style="left:254.0px;top:158.0px;font-size:26.00px;font-weight:700;color:#24405a;transform:scaleX(0.9160);">Campaign</span><span class="t" style="left:438.4px;top:141.7px;font-size:26.30px;font-weight:700;color:#5b5b5b;transform:scaleX(0.9098);">Courts Singapore: Courts x Plus! Anniversary</span><span class="t" style="left:438.4px;top:179.6px;font-size:22.40px;font-weight:400;color:#666;">Awareness: 15 May 2018 - 20 May 2018</span><div class="r" style="left:1208.0px;top:114.0px;width:920.0px;height:114.0px;background:#fff;border-radius:4px;box-shadow:0 1px 5px rgba(40,50,80,0.10)"></div><div class="r" style="left:1390.3px;top:114.0px;width:2.0px;height:114.0px;background:#ececec"></div><span class="t" style="left:1255.0px;top:158.0px;font-size:26.00px;font-weight:700;color:#24405a;transform:scaleX(0.9107);">Comms</span><span class="t" style="left:1425.0px;top:142.0px;font-size:26.00px;font-weight:700;color:#5b5b5b;transform:scaleX(0.9269);">Somerset Closed Door</span><div class="r" style="left:1702.0px;top:138.8px;width:76.5px;height:32.2px;background:#f17a1c;border-radius:3px"></div><span class="t" style="left:1715.0px;top:144.4px;font-size:22.00px;font-weight:700;color:#fff;transform:scaleX(1.0262);">EDM</span><span class="t" style="left:1425.0px;top:179.6px;font-size:22.40px;font-weight:400;color:#666;transform:scaleX(0.9913);">Launch date: 12 May 2018</span><div class="r" style="left:0.0px;top:399.8px;width:2350.0px;height:3.0px;background:#ebebeb"></div><div class="r" style="left:1038.0px;top:395.0px;width:272.0px;height:4.6px;background:#2233d4;border-radius:2.5px"></div><svg class="r" style="left:341.5px;top:290.5px;" width="30" height="30" viewBox="0 0 30 30"><rect x="1.5" y="1.5" width="27" height="27" rx="2.5" fill="#c8cdd5" stroke="#2c4358" stroke-width="3"/><path d="M15 7 V23 M7 15 H23" stroke="#2c4358" stroke-width="3"/></svg><span class="t" style="left:307.2px;top:347.5px;font-size:22.60px;font-weight:400;color:#2c4358;transform:scaleX(0.9572);">Campaign</span><svg class="r" style="left:609.3px;top:290.5px;" width="40" height="30" viewBox="0 0 40 30"><path d="M5.1 25 V6.6 Q5.1 3.9 7.8 3.9 H35.7" fill="none" stroke="#2c4358" stroke-width="2.8"/><rect x="0.4" y="23.8" width="22.3" height="4.5" fill="#2c4358"/><rect x="28" y="10.7" width="9.7" height="16.1" rx="1.5" fill="#c8cdd5" stroke="#2c4358" stroke-width="3"/></svg><span class="t" style="left:592.0px;top:347.5px;font-size:22.60px;font-weight:400;color:#2c4358;transform:scaleX(0.9589);">Comms</span><svg class="r" style="left:887.3px;top:290.2px;" width="29" height="32.5" viewBox="0 0 29 32.5"><rect x="1.5" y="5.5" width="25.5" height="25.7" rx="3" fill="#fff" stroke="#2c4358" stroke-width="3"/><rect x="3" y="7" width="22.5" height="3" fill="#c8cdd5"/><rect x="3" y="10" width="22.5" height="2.7" fill="#2c4358"/><rect x="4.9" y="0.2" width="2.6" height="5.5" fill="#2c4358"/><rect x="21" y="0.2" width="2.6" height="5.5" fill="#2c4358"/><rect x="6" y="15" width="3.4" height="2.7" fill="#2c4358"/><rect x="12.7" y="15" width="3.4" height="2.7" fill="#2c4358"/><rect x="19" y="15" width="3.4" height="2.7" fill="#2c4358"/></svg><span class="t" style="left:857.1px;top:347.5px;font-size:22.60px;font-weight:400;color:#2c4358;transform:scaleX(0.9555);">Schedule</span><svg class="r" style="left:1159.9px;top:290.5px;" width="30" height="30" viewBox="0 0 30 30"><rect x="1.5" y="1.5" width="27" height="27" rx="2.5" fill="#c3c9f0" stroke="#2233cc" stroke-width="3"/><circle cx="15" cy="10.5" r="3.3" fill="#fff" stroke="#2233cc" stroke-width="2.6"/><path d="M5.5 23.5 C6.5 18.5 10 16.5 15 16.5 C20 16.5 23.5 18.5 24.5 23.5 Z" fill="#2233cc"/><path d="M9 22 C10 19.8 12 19 15 19 C18 19 20 19.8 21 22 Z" fill="#c3c9f0"/></svg><span class="t" style="left:1128.5px;top:347.5px;font-size:22.60px;font-weight:400;color:#2233cc;transform:scaleX(0.9843);">Audience</span><svg class="r" style="left:1432.7px;top:290.5px;" width="30" height="30" viewBox="0 0 30 30"><rect x="1.5" y="1.5" width="27" height="27" rx="2.5" fill="#c8cdd5" stroke="#2c4358" stroke-width="3"/><circle cx="15" cy="15" r="7.6" fill="#2c4358"/><rect x="13.2" y="5.2" width="3.6" height="4" fill="#2c4358" transform="rotate(0 15 15)"/><rect x="13.2" y="5.2" width="3.6" height="4" fill="#2c4358" transform="rotate(45 15 15)"/><rect x="13.2" y="5.2" width="3.6" height="4" fill="#2c4358" transform="rotate(90 15 15)"/><rect x="13.2" y="5.2" width="3.6" height="4" fill="#2c4358" transform="rotate(135 15 15)"/><rect x="13.2" y="5.2" width="3.6" height="4" fill="#2c4358" transform="rotate(180 15 15)"/><rect x="13.2" y="5.2" width="3.6" height="4" fill="#2c4358" transform="rotate(225 15 15)"/><rect x="13.2" y="5.2" width="3.6" height="4" fill="#2c4358" transform="rotate(270 15 15)"/><rect x="13.2" y="5.2" width="3.6" height="4" fill="#2c4358" transform="rotate(315 15 15)"/><circle cx="15" cy="15" r="3" fill="#fff"/></svg><span class="t" style="left:1394.8px;top:347.5px;font-size:22.60px;font-weight:400;color:#2c4358;transform:scaleX(0.9795);">Mechanics</span><svg class="r" style="left:1705.5px;top:290.5px;" width="30" height="30" viewBox="0 0 30 30"><rect x="1.5" y="1.5" width="27" height="27" rx="2.5" fill="#c8cdd5" stroke="#2c4358" stroke-width="3"/><rect x="6.5" y="6.5" width="6" height="6" fill="none" stroke="#2c4358" stroke-width="2"/><rect x="6.5" y="17.5" width="6" height="6" fill="none" stroke="#2c4358" stroke-width="2"/><rect x="16" y="8.5" width="8" height="2.5" fill="#2c4358"/><rect x="16" y="19.5" width="8" height="2.5" fill="#2c4358"/></svg><span class="t" style="left:1680.2px;top:347.5px;font-size:22.60px;font-weight:400;color:#2c4358;transform:scaleX(1.0191);">Content</span><svg class="r" style="left:1979.1px;top:289.8px;" width="28.5" height="32" viewBox="0 0 28.5 32"><rect x="1.5" y="4" width="25.5" height="27.5" rx="2.5" fill="#c8cdd5" stroke="#2c4358" stroke-width="3"/><rect x="9" y="2" width="11" height="4" rx="1" fill="#2c4358"/><circle cx="14.5" cy="2" r="1.8" fill="none" stroke="#2c4358" stroke-width="1.5"/><rect x="6.5" y="11" width="16" height="2.6" fill="#2c4358"/><rect x="6.5" y="17" width="16" height="2.6" fill="#2c4358"/><rect x="6.5" y="23" width="10" height="2.6" fill="#2c4358"/></svg><span class="t" style="left:1945.2px;top:347.5px;font-size:22.60px;font-weight:400;color:#2c4358;transform:scaleX(1.0214);">Overview</span><span class="t" style="left:221.2px;top:474.7px;font-size:76.00px;font-weight:400;color:#2c4358;transform:scaleX(0.9507);-webkit-text-stroke:2.3px #fff;paint-order:fill stroke;">A/B test for audience</span><svg class="r" style="left:1772.0px;top:525.0px;" width="10.5" height="15.5" viewBox="0 0 10.5 15.5"><path d="M9.0 1.5 L1.5 7.75 L9.0 14.0" fill="none" stroke="#1f30c8" stroke-width="2.8" stroke-linecap="round" stroke-linejoin="round"/></svg><span class="t" style="left:1802.8px;top:521.0px;font-size:26.00px;font-weight:700;color:#1f30c8;transform:scaleX(0.9180);">Back to audience dashboard</span><span class="t" style="left:221.2px;top:604.4px;font-size:22.10px;font-weight:700;color:#2c4358;transform:scaleX(0.9809);">A/B testing title *</span><span class="t" style="left:222.3px;top:650.7px;font-size:29.00px;font-weight:400;color:#2c4358;transform:scaleX(0.9710);">Diwan_AB_Test</span><div class="r" style="left:220.8px;top:712.9px;width:920.0px;height:2.0px;background:#b9b9b9"></div><div class="r" style="left:220.0px;top:747.7px;width:1910.0px;height:1142.0px;background:#fff;box-shadow:0 0 7px rgba(0,0,0,0.10)"></div><div class="r" style="left:925.0px;top:747.7px;width:3.0px;height:1142.0px;background:#ececec"></div><div class="r" style="left:1637.5px;top:747.7px;width:492.5px;height:1142.0px;background:#f6f7fb"></div><div class="r" style="left:1636.0px;top:747.7px;width:2.0px;height:1142.0px;background:#e9e9e9"></div><span class="t" style="left:278.5px;top:801.5px;font-size:26.10px;font-weight:700;color:#2c4358;transform:scaleX(0.8995);">Eligible base</span><svg class="r" style="left:276.8px;top:853.4px;" width="589.6169354838712" height="146.57258064516122" viewBox="0 0 589.6169354838712 146.57258064516122"><rect x="1" y="1" width="587.6169354838712" height="144.57258064516122" rx="4" fill="none" stroke="#5b87f0" stroke-width="2" stroke-dasharray="8 8"/></svg><span class="t" style="left:391.7px;top:915.8px;font-size:22.80px;font-weight:400;color:#5b87f0;transform:scaleX(0.9844);">Drag and drop segment criteria here</span><span class="t" style="left:278.2px;top:1036.3px;font-size:26.15px;font-weight:400;color:#2c4358;transform:scaleX(0.9857);">Potential reach</span><svg class="r" style="left:463.4px;top:1038.2px;" width="21.6" height="21.6" viewBox="0 0 21.6 21.6"><circle cx="10.8" cy="10.8" r="10.8" fill="#a6a6a6"/><g transform="scale(1.029)"><circle cx="11.4" cy="5.6" r="2" fill="#fff"/><path d="M8.6 8.6 L12.9 8.6 L11.2 15.6 L12.8 15.6 L12.4 17.4 L7.4 17.4 L7.8 15.6 L8.9 15.6 L10.2 10.4 L8.2 10.4 Z" fill="#fff"/></g></svg><span class="t" style="left:509.8px;top:1036.0px;font-size:26.50px;font-weight:700;color:#1f30c8;transform:scaleX(0.9254);">Calculate</span><span class="t" style="left:280.1px;top:1083.7px;font-size:26.15px;font-weight:400;color:#2c4358;transform:scaleX(1.1154);">-</span><svg class="r" style="left:277.2px;top:1163.1px;" width="26" height="26" viewBox="0 0 26 26"><rect x="1.2" y="1.2" width="23.6" height="23.6" rx="2" fill="#fff" stroke="#555" stroke-width="2.4"/></svg><span class="t" style="left:313.5px;top:1163.6px;font-size:25.90px;font-weight:400;color:#555;transform:scaleX(0.9946);">Set control group</span><svg class="r" style="left:213.7px;top:831.9px;" width="49.0" height="49.0" viewBox="0 0 49.0 49.0"><circle cx="24.5" cy="24.5" r="24.5" fill="#5a9a0e"/></svg><span class="t" style="left:218.2056451612905px;top:843.8508064516129px;width:40px;text-align:center;font-size:24px;color:#fff;font-family:'Liberation Sans',Arial,sans-serif">1</span><span class="t" style="left:984.5px;top:801.6px;font-size:26.10px;font-weight:700;color:#2c4358;transform:scaleX(0.9337);">Set A</span><svg class="r" style="left:983.9px;top:853.6px;" width="589.2137096774194" height="145.36290322580646" viewBox="0 0 589.2137096774194 145.36290322580646"><rect x="1" y="1" width="587.2137096774194" height="143.36290322580646" rx="4" fill="none" stroke="#c6c6c6" stroke-width="2" stroke-dasharray="8 8"/></svg><span class="t" style="left:1098.2px;top:917.1px;font-size:22.80px;font-weight:400;color:#c8c8c8;transform:scaleX(0.9844);">Drag and drop segment criteria here</span><span class="t" style="left:985.8px;top:1036.3px;font-size:26.15px;font-weight:400;color:#2c4358;transform:scaleX(0.9857);">Potential reach</span><svg class="r" style="left:1169.0px;top:1038.2px;" width="21.6" height="21.6" viewBox="0 0 21.6 21.6"><circle cx="10.8" cy="10.8" r="10.8" fill="#a6a6a6"/><g transform="scale(1.029)"><circle cx="11.4" cy="5.6" r="2" fill="#fff"/><path d="M8.6 8.6 L12.9 8.6 L11.2 15.6 L12.8 15.6 L12.4 17.4 L7.4 17.4 L7.8 15.6 L8.9 15.6 L10.2 10.4 L8.2 10.4 Z" fill="#fff"/></g></svg><span class="t" style="left:1215.7px;top:1036.0px;font-size:26.50px;font-weight:700;color:#1f30c8;transform:scaleX(0.9254);">Calculate</span><span class="t" style="left:985.8px;top:1083.7px;font-size:26.15px;font-weight:400;color:#2c4358;transform:scaleX(1.1154);">-</span><span class="t" style="left:985.8px;top:1146.9px;font-size:26.15px;font-weight:400;color:#2c4358;transform:scaleX(0.9645);">Proposed reach</span><span class="t" style="left:1169.4px;top:1146.4px;font-size:22.00px;font-weight:400;color:#c0198a;transform:scaleX(1.0922);">*</span><div class="r" style="left:984.4px;top:1191.9px;width:278.0px;height:48.4px;box-sizing:border-box;border:1.6px solid #e0e0e0;border-radius:4px;background:#fff"></div><span class="t" style="left:1001.0px;top:1206.9px;font-size:20.80px;font-weight:400;color:#a5a5a5;transform:scaleX(1.0428);">0</span><span class="t" style="left:996.0px;top:1352.9px;font-size:26.10px;font-weight:700;color:#2c4358;transform:scaleX(0.9191);">Set B</span><svg class="r" style="left:983.9px;top:1420.0px;" width="589.2137096774194" height="145.26209677419388" viewBox="0 0 589.2137096774194 145.26209677419388"><rect x="1" y="1" width="587.2137096774194" height="143.26209677419388" rx="4" fill="none" stroke="#c6c6c6" stroke-width="2" stroke-dasharray="8 8"/></svg><span class="t" style="left:1098.2px;top:1483.4px;font-size:22.80px;font-weight:400;color:#c8c8c8;transform:scaleX(0.9844);">Drag and drop segment criteria here</span><span class="t" style="left:985.8px;top:1602.9px;font-size:26.15px;font-weight:400;color:#2c4358;transform:scaleX(0.9857);">Potential reach</span><svg class="r" style="left:1169.0px;top:1604.7px;" width="21.6" height="21.6" viewBox="0 0 21.6 21.6"><circle cx="10.8" cy="10.8" r="10.8" fill="#a6a6a6"/><g transform="scale(1.029)"><circle cx="11.4" cy="5.6" r="2" fill="#fff"/><path d="M8.6 8.6 L12.9 8.6 L11.2 15.6 L12.8 15.6 L12.4 17.4 L7.4 17.4 L7.8 15.6 L8.9 15.6 L10.2 10.4 L8.2 10.4 Z" fill="#fff"/></g></svg><span class="t" style="left:1215.7px;top:1602.6px;font-size:26.50px;font-weight:700;color:#1f30c8;transform:scaleX(0.9254);">Calculate</span><span class="t" style="left:985.8px;top:1650.2px;font-size:26.15px;font-weight:400;color:#2c4358;transform:scaleX(1.1154);">-</span><span class="t" style="left:985.8px;top:1712.7px;font-size:26.15px;font-weight:400;color:#2c4358;transform:scaleX(0.9645);">Proposed reach</span><span class="t" style="left:1169.4px;top:1712.2px;font-size:22.00px;font-weight:400;color:#c0198a;transform:scaleX(1.0922);">*</span><div class="r" style="left:984.4px;top:1757.7px;width:278.0px;height:48.4px;box-sizing:border-box;border:1.6px solid #e0e0e0;border-radius:4px;background:#fff"></div><span class="t" style="left:1001.0px;top:1772.6px;font-size:20.80px;font-weight:400;color:#a5a5a5;transform:scaleX(1.0428);">0</span><div class="r" style="left:928.0px;top:1299.0px;width:709.0px;height:3.0px;background:#ececec"></div><div class="r" style="left:493.1px;top:903.4px;width:410.7px;height:64.6px;background:#5b86fa;border-radius:4px;box-shadow:0 3px 5px rgba(0,0,0,0.18)"></div><svg class="r" style="left:508.7px;top:927.9px;" width="10.1" height="17.0" viewBox="0 0 10.1 17.0"><circle cx="1.9" cy="1.9" r="1.9" fill="#fff"/><circle cx="1.9" cy="8.5" r="1.9" fill="#fff"/><circle cx="1.9" cy="15.1" r="1.9" fill="#fff"/><circle cx="8.2" cy="1.9" r="1.9" fill="#fff"/><circle cx="8.2" cy="8.5" r="1.9" fill="#fff"/><circle cx="8.2" cy="15.1" r="1.9" fill="#fff"/></svg><span class="t" style="left:539.3px;top:925.3px;font-size:22.60px;font-weight:400;color:#fff;transform:scaleX(0.9416);">Foodies in Pasir Ris</span><svg class="r" style="left:862.9px;top:938.5px;" width="28" height="28" viewBox="0 0 28 28"><path d="M3 8 Q4 4.5 6.5 4.8 Q8.5 5 9 7.5 Q10 3 12 3 Q14 3 14.2 5.8 Q15.5 1.8 17 1.8 Q19 2 19.2 4.6 Q20.5 0.8 22.5 1.2 Q25 2 25.5 6 L26.3 12 Q27 18 26 21 Q24 24 21 24 Q17 28 14 27.3 Q9 26 6.5 22.5 L2 18 Q0.5 16 3 14.5 L5.5 15 L3 11.5 Z" fill="#fff" stroke="#000" stroke-width="1.9" stroke-linejoin="round"/><path d="M13 14.6 L14.1 20.1 M16.3 12.9 L18 18.4 M19.7 11.2 L21.9 16.8" stroke="#000" stroke-width="1.7"/></svg><span class="t" style="left:1679.9px;top:785.5px;font-size:26.30px;font-weight:700;color:#2c4358;transform:scaleX(0.9313);">Segment criteria</span><svg class="r" style="left:2081.3px;top:786.8px;" width="5.4" height="22.0" viewBox="0 0 5.4 22.0"><circle cx="2.7" cy="2.7" r="2.7" fill="#2233cc"/><circle cx="2.7" cy="11.0" r="2.7" fill="#2233cc"/><circle cx="2.7" cy="19.3" r="2.7" fill="#2233cc"/></svg><div class="r" style="left:1679.3px;top:848.1px;width:411.0px;height:59.1px;box-sizing:border-box;border:1.6px solid #d6d6d6;border-radius:5px;background:#fff"></div><span class="t" style="left:1704.3px;top:866.7px;font-size:22.90px;font-weight:400;color:#c6c6c6;transform:scaleX(0.9290);">Search</span><svg class="r" style="left:2042.4px;top:865.0px;" width="24" height="24" viewBox="0 0 24 24"><circle cx="11" cy="11" r="7.5" fill="none" stroke="#c4c4c4" stroke-width="2.8"/><path d="M16.5 16.5 L21.5 21.5" stroke="#c4c4c4" stroke-width="3" stroke-linecap="round"/></svg><div class="r" style="left:2110.3px;top:941.1px;width:9.1px;height:488.3px;background:#d3d3d3;border-radius:5px"></div><div class="r" style="left:1679.3px;top:939.8px;width:411.0px;height:65.0px;background:#fff;border-radius:5px;box-shadow:0 1px 4px rgba(0,0,0,0.09)"></div><svg class="r" style="left:1695.3px;top:964.1px;" width="9.8" height="16.599999999999998" viewBox="0 0 9.8 16.599999999999998"><circle cx="1.7" cy="1.7" r="1.7" fill="#b0b0b0"/><circle cx="1.7" cy="8.299999999999999" r="1.7" fill="#b0b0b0"/><circle cx="1.7" cy="14.899999999999999" r="1.7" fill="#b0b0b0"/><circle cx="8.1" cy="1.7" r="1.7" fill="#b0b0b0"/><circle cx="8.1" cy="8.299999999999999" r="1.7" fill="#b0b0b0"/><circle cx="8.1" cy="14.899999999999999" r="1.7" fill="#b0b0b0"/></svg><span class="t" style="left:1725.9px;top:962.0px;font-size:22.40px;font-weight:400;color:#555;transform:scaleX(0.9681);">Foodies in the East</span><svg class="r" style="left:2060.1px;top:966.4px;" width="8.5" height="13.5" viewBox="0 0 8.5 13.5"><path d="M1.5 1.5 L7.0 6.75 L1.5 12.0" fill="none" stroke="#444" stroke-width="2.2" stroke-linecap="round" stroke-linejoin="round"/></svg><div class="r" style="left:1679.3px;top:1018.3px;width:411.0px;height:65.0px;background:#fff;border-radius:5px;box-shadow:0 1px 4px rgba(0,0,0,0.09)"></div><svg class="r" style="left:1695.3px;top:1042.6px;" width="9.8" height="16.599999999999998" viewBox="0 0 9.8 16.599999999999998"><circle cx="1.7" cy="1.7" r="1.7" fill="#b0b0b0"/><circle cx="1.7" cy="8.299999999999999" r="1.7" fill="#b0b0b0"/><circle cx="1.7" cy="14.899999999999999" r="1.7" fill="#b0b0b0"/><circle cx="8.1" cy="1.7" r="1.7" fill="#b0b0b0"/><circle cx="8.1" cy="8.299999999999999" r="1.7" fill="#b0b0b0"/><circle cx="8.1" cy="14.899999999999999" r="1.7" fill="#b0b0b0"/></svg><span class="t" style="left:1725.9px;top:1040.5px;font-size:22.40px;font-weight:400;color:#555;transform:scaleX(0.9627);">Foodies in Tampines</span><svg class="r" style="left:2060.1px;top:1044.9px;" width="8.5" height="13.5" viewBox="0 0 8.5 13.5"><path d="M1.5 1.5 L7.0 6.75 L1.5 12.0" fill="none" stroke="#444" stroke-width="2.2" stroke-linecap="round" stroke-linejoin="round"/></svg><div class="r" style="left:1679.3px;top:1096.9px;width:411.0px;height:65.0px;background:#fff;border-radius:5px;box-shadow:0 1px 4px rgba(0,0,0,0.09)"></div><svg class="r" style="left:1695.3px;top:1121.2px;" width="9.8" height="16.599999999999998" viewBox="0 0 9.8 16.599999999999998"><circle cx="1.7" cy="1.7" r="1.7" fill="#b0b0b0"/><circle cx="1.7" cy="8.299999999999999" r="1.7" fill="#b0b0b0"/><circle cx="1.7" cy="14.899999999999999" r="1.7" fill="#b0b0b0"/><circle cx="8.1" cy="1.7" r="1.7" fill="#b0b0b0"/><circle cx="8.1" cy="8.299999999999999" r="1.7" fill="#b0b0b0"/><circle cx="8.1" cy="14.899999999999999" r="1.7" fill="#b0b0b0"/></svg><span class="t" style="left:1725.9px;top:1119.0px;font-size:22.40px;font-weight:400;color:#555;transform:scaleX(0.9416);">Foodies in Pasir Ris</span><svg class="r" style="left:2060.1px;top:1123.5px;" width="8.5" height="13.5" viewBox="0 0 8.5 13.5"><path d="M1.5 1.5 L7.0 6.75 L1.5 12.0" fill="none" stroke="#444" stroke-width="2.2" stroke-linecap="round" stroke-linejoin="round"/></svg><div class="r" style="left:1679.3px;top:1175.4px;width:411.0px;height:65.0px;background:#fff;border-radius:5px;box-shadow:0 1px 4px rgba(0,0,0,0.09)"></div><svg class="r" style="left:1695.3px;top:1199.7px;" width="9.8" height="16.599999999999998" viewBox="0 0 9.8 16.599999999999998"><circle cx="1.7" cy="1.7" r="1.7" fill="#b0b0b0"/><circle cx="1.7" cy="8.299999999999999" r="1.7" fill="#b0b0b0"/><circle cx="1.7" cy="14.899999999999999" r="1.7" fill="#b0b0b0"/><circle cx="8.1" cy="1.7" r="1.7" fill="#b0b0b0"/><circle cx="8.1" cy="8.299999999999999" r="1.7" fill="#b0b0b0"/><circle cx="8.1" cy="14.899999999999999" r="1.7" fill="#b0b0b0"/></svg><span class="t" style="left:1725.9px;top:1197.5px;font-size:22.40px;font-weight:400;color:#555;transform:scaleX(0.9598);">Foodies in Simei</span><svg class="r" style="left:2060.1px;top:1202.0px;" width="8.5" height="13.5" viewBox="0 0 8.5 13.5"><path d="M1.5 1.5 L7.0 6.75 L1.5 12.0" fill="none" stroke="#444" stroke-width="2.2" stroke-linecap="round" stroke-linejoin="round"/></svg><div class="r" style="left:1679.3px;top:1253.9px;width:411.0px;height:65.0px;background:#fff;border-radius:5px;box-shadow:0 1px 4px rgba(0,0,0,0.09)"></div><svg class="r" style="left:1695.3px;top:1278.2px;" width="9.8" height="16.599999999999998" viewBox="0 0 9.8 16.599999999999998"><circle cx="1.7" cy="1.7" r="1.7" fill="#b0b0b0"/><circle cx="1.7" cy="8.299999999999999" r="1.7" fill="#b0b0b0"/><circle cx="1.7" cy="14.899999999999999" r="1.7" fill="#b0b0b0"/><circle cx="8.1" cy="1.7" r="1.7" fill="#b0b0b0"/><circle cx="8.1" cy="8.299999999999999" r="1.7" fill="#b0b0b0"/><circle cx="8.1" cy="14.899999999999999" r="1.7" fill="#b0b0b0"/></svg><span class="t" style="left:1725.9px;top:1276.1px;font-size:22.40px;font-weight:400;color:#555;transform:scaleX(0.9637);">Foodies in Changi</span><svg class="r" style="left:2060.1px;top:1280.5px;" width="8.5" height="13.5" viewBox="0 0 8.5 13.5"><path d="M1.5 1.5 L7.0 6.75 L1.5 12.0" fill="none" stroke="#444" stroke-width="2.2" stroke-linecap="round" stroke-linejoin="round"/></svg><div class="r" style="left:1679.3px;top:1332.5px;width:411.0px;height:65.0px;background:#fff;border-radius:5px;box-shadow:0 1px 4px rgba(0,0,0,0.09)"></div><svg class="r" style="left:1695.3px;top:1356.8px;" width="9.8" height="16.599999999999998" viewBox="0 0 9.8 16.599999999999998"><circle cx="1.7" cy="1.7" r="1.7" fill="#b0b0b0"/><circle cx="1.7" cy="8.299999999999999" r="1.7" fill="#b0b0b0"/><circle cx="1.7" cy="14.899999999999999" r="1.7" fill="#b0b0b0"/><circle cx="8.1" cy="1.7" r="1.7" fill="#b0b0b0"/><circle cx="8.1" cy="8.299999999999999" r="1.7" fill="#b0b0b0"/><circle cx="8.1" cy="14.899999999999999" r="1.7" fill="#b0b0b0"/></svg><span class="t" style="left:1725.9px;top:1354.6px;font-size:22.40px;font-weight:400;color:#555;transform:scaleX(0.9743);">Foodies in Bedok</span><svg class="r" style="left:2060.1px;top:1359.1px;" width="8.5" height="13.5" viewBox="0 0 8.5 13.5"><path d="M1.5 1.5 L7.0 6.75 L1.5 12.0" fill="none" stroke="#444" stroke-width="2.2" stroke-linecap="round" stroke-linejoin="round"/></svg><div class="r" style="left:1679.3px;top:1411.0px;width:411.0px;height:65.0px;background:#fff;border-radius:5px;box-shadow:0 1px 4px rgba(0,0,0,0.09)"></div><svg class="r" style="left:1695.3px;top:1435.3px;" width="9.8" height="16.599999999999998" viewBox="0 0 9.8 16.599999999999998"><circle cx="1.7" cy="1.7" r="1.7" fill="#b0b0b0"/><circle cx="1.7" cy="8.299999999999999" r="1.7" fill="#b0b0b0"/><circle cx="1.7" cy="14.899999999999999" r="1.7" fill="#b0b0b0"/><circle cx="8.1" cy="1.7" r="1.7" fill="#b0b0b0"/><circle cx="8.1" cy="8.299999999999999" r="1.7" fill="#b0b0b0"/><circle cx="8.1" cy="14.899999999999999" r="1.7" fill="#b0b0b0"/></svg><span class="t" style="left:1725.9px;top:1433.1px;font-size:22.40px;font-weight:400;color:#555;transform:scaleX(0.9618);">Foodies in Kembangan</span><svg class="r" style="left:2060.1px;top:1437.6px;" width="8.5" height="13.5" viewBox="0 0 8.5 13.5"><path d="M1.5 1.5 L7.0 6.75 L1.5 12.0" fill="none" stroke="#444" stroke-width="2.2" stroke-linecap="round" stroke-linejoin="round"/></svg><div class="r" style="left:1679.3px;top:1489.5px;width:411.0px;height:65.0px;background:#fff;border-radius:5px;box-shadow:0 1px 4px rgba(0,0,0,0.09)"></div><svg class="r" style="left:1695.3px;top:1513.8px;" width="9.8" height="16.599999999999998" viewBox="0 0 9.8 16.599999999999998"><circle cx="1.7" cy="1.7" r="1.7" fill="#b0b0b0"/><circle cx="1.7" cy="8.299999999999999" r="1.7" fill="#b0b0b0"/><circle cx="1.7" cy="14.899999999999999" r="1.7" fill="#b0b0b0"/><circle cx="8.1" cy="1.7" r="1.7" fill="#b0b0b0"/><circle cx="8.1" cy="8.299999999999999" r="1.7" fill="#b0b0b0"/><circle cx="8.1" cy="14.899999999999999" r="1.7" fill="#b0b0b0"/></svg><span class="t" style="left:1725.9px;top:1511.7px;font-size:22.40px;font-weight:400;color:#555;transform:scaleX(0.9574);">Foodies in Eunos</span><svg class="r" style="left:2060.1px;top:1516.1px;" width="8.5" height="13.5" viewBox="0 0 8.5 13.5"><path d="M1.5 1.5 L7.0 6.75 L1.5 12.0" fill="none" stroke="#444" stroke-width="2.2" stroke-linecap="round" stroke-linejoin="round"/></svg><div class="r" style="left:1679.3px;top:1568.1px;width:411.0px;height:65.0px;background:#fff;border-radius:5px;box-shadow:0 1px 4px rgba(0,0,0,0.09)"></div><svg class="r" style="left:1695.3px;top:1592.4px;" width="9.8" height="16.599999999999998" viewBox="0 0 9.8 16.599999999999998"><circle cx="1.7" cy="1.7" r="1.7" fill="#b0b0b0"/><circle cx="1.7" cy="8.299999999999999" r="1.7" fill="#b0b0b0"/><circle cx="1.7" cy="14.899999999999999" r="1.7" fill="#b0b0b0"/><circle cx="8.1" cy="1.7" r="1.7" fill="#b0b0b0"/><circle cx="8.1" cy="8.299999999999999" r="1.7" fill="#b0b0b0"/><circle cx="8.1" cy="14.899999999999999" r="1.7" fill="#b0b0b0"/></svg><span class="t" style="left:1725.9px;top:1590.2px;font-size:22.40px;font-weight:400;color:#555;transform:scaleX(0.9773);">Foodies in Katong</span><svg class="r" style="left:2060.1px;top:1594.7px;" width="8.5" height="13.5" viewBox="0 0 8.5 13.5"><path d="M1.5 1.5 L7.0 6.75 L1.5 12.0" fill="none" stroke="#444" stroke-width="2.2" stroke-linecap="round" stroke-linejoin="round"/></svg><div class="r" style="left:1679.3px;top:1646.6px;width:411.0px;height:65.0px;background:#fff;border-radius:5px;box-shadow:0 1px 4px rgba(0,0,0,0.09)"></div><svg class="r" style="left:1695.3px;top:1670.9px;" width="9.8" height="16.599999999999998" viewBox="0 0 9.8 16.599999999999998"><circle cx="1.7" cy="1.7" r="1.7" fill="#b0b0b0"/><circle cx="1.7" cy="8.299999999999999" r="1.7" fill="#b0b0b0"/><circle cx="1.7" cy="14.899999999999999" r="1.7" fill="#b0b0b0"/><circle cx="8.1" cy="1.7" r="1.7" fill="#b0b0b0"/><circle cx="8.1" cy="8.299999999999999" r="1.7" fill="#b0b0b0"/><circle cx="8.1" cy="14.899999999999999" r="1.7" fill="#b0b0b0"/></svg><span class="t" style="left:1725.9px;top:1668.7px;font-size:22.40px;font-weight:400;color:#555;transform:scaleX(0.9639);">Foodies in Kallang</span><svg class="r" style="left:2060.1px;top:1673.2px;" width="8.5" height="13.5" viewBox="0 0 8.5 13.5"><path d="M1.5 1.5 L7.0 6.75 L1.5 12.0" fill="none" stroke="#444" stroke-width="2.2" stroke-linecap="round" stroke-linejoin="round"/></svg><div class="r" style="left:1679.3px;top:1725.1px;width:411.0px;height:65.0px;background:#fff;border-radius:5px;box-shadow:0 1px 4px rgba(0,0,0,0.09)"></div><svg class="r" style="left:1695.3px;top:1749.4px;" width="9.8" height="16.599999999999998" viewBox="0 0 9.8 16.599999999999998"><circle cx="1.7" cy="1.7" r="1.7" fill="#b0b0b0"/><circle cx="1.7" cy="8.299999999999999" r="1.7" fill="#b0b0b0"/><circle cx="1.7" cy="14.899999999999999" r="1.7" fill="#b0b0b0"/><circle cx="8.1" cy="1.7" r="1.7" fill="#b0b0b0"/><circle cx="8.1" cy="8.299999999999999" r="1.7" fill="#b0b0b0"/><circle cx="8.1" cy="14.899999999999999" r="1.7" fill="#b0b0b0"/></svg><span class="t" style="left:1725.9px;top:1747.3px;font-size:22.40px;font-weight:400;color:#555;transform:scaleX(0.9699);">Foodies in Marine Parade</span><svg class="r" style="left:2060.1px;top:1751.7px;" width="8.5" height="13.5" viewBox="0 0 8.5 13.5"><path d="M1.5 1.5 L7.0 6.75 L1.5 12.0" fill="none" stroke="#444" stroke-width="2.2" stroke-linecap="round" stroke-linejoin="round"/></svg><svg class="r" style="left:1613.6px;top:1101.2px;" width="49.0" height="49.0" viewBox="0 0 49.0 49.0"><circle cx="24.5" cy="24.5" r="24.5" fill="#5a9a0e"/></svg><span class="t" style="left:1618.1048387096773px;top:1113.2056451612905px;width:40px;text-align:center;font-size:24px;color:#fff;font-family:'Liberation Sans',Arial,sans-serif">2</span><div class="r" style="left:0.0px;top:1993.9px;width:2350.0px;height:3.0px;background:#e9e9e9"></div><span class="t" style="left:221.0px;top:2025.7px;font-size:22.70px;font-weight:400;color:#2c4358;transform:scaleX(0.9645);">Proposed reach</span><svg class="r" style="left:385.6px;top:2026.1px;" width="21.0" height="21.0" viewBox="0 0 21.0 21.0"><circle cx="10.5" cy="10.5" r="10.5" fill="#a6a6a6"/><g transform="scale(1.000)"><circle cx="11.4" cy="5.6" r="2" fill="#fff"/><path d="M8.6 8.6 L12.9 8.6 L11.2 15.6 L12.8 15.6 L12.4 17.4 L7.4 17.4 L7.8 15.6 L8.9 15.6 L10.2 10.4 L8.2 10.4 Z" fill="#fff"/></g></svg><span class="t" style="left:470.4px;top:2025.5px;font-size:22.90px;font-weight:700;color:#1f30c8;transform:scaleX(0.9268);">Edit</span><span class="t" style="left:221.0px;top:2064.5px;font-size:28.80px;font-weight:700;color:#2c4358;transform:scaleX(1.0274);">999,999</span><div class="r" style="left:545.0px;top:2003.9px;width:2.0px;height:110.0px;background:#ececec"></div><span class="t" style="left:578.5px;top:2025.7px;font-size:22.70px;font-weight:400;color:#2c4358;transform:scaleX(0.9857);">Potential reach</span><svg class="r" style="left:741.8px;top:2026.1px;" width="21.0" height="21.0" viewBox="0 0 21.0 21.0"><circle cx="10.5" cy="10.5" r="10.5" fill="#a6a6a6"/><g transform="scale(1.000)"><circle cx="11.4" cy="5.6" r="2" fill="#fff"/><path d="M8.6 8.6 L12.9 8.6 L11.2 15.6 L12.8 15.6 L12.4 17.4 L7.4 17.4 L7.8 15.6 L8.9 15.6 L10.2 10.4 L8.2 10.4 Z" fill="#fff"/></g></svg><span class="t" style="left:790.0px;top:2025.3px;font-size:23.10px;font-weight:700;color:#1f30c8;transform:scaleX(0.9254);">Calculate</span><span class="t" style="left:578.5px;top:2064.5px;font-size:28.80px;font-weight:700;color:#2c4358;transform:scaleX(1.1199);">-</span><div class="r" style="left:920.0px;top:2003.9px;width:2.0px;height:110.0px;background:#ececec"></div><span class="t" style="left:955.0px;top:2025.7px;font-size:22.70px;font-weight:400;color:#2c4358;transform:scaleX(0.9611);">Final reach</span><svg class="r" style="left:1074.5px;top:2026.1px;" width="21.0" height="21.0" viewBox="0 0 21.0 21.0"><circle cx="10.5" cy="10.5" r="10.5" fill="#a6a6a6"/><g transform="scale(1.000)"><circle cx="11.4" cy="5.6" r="2" fill="#fff"/><path d="M8.6 8.6 L12.9 8.6 L11.2 15.6 L12.8 15.6 L12.4 17.4 L7.4 17.4 L7.8 15.6 L8.9 15.6 L10.2 10.4 L8.2 10.4 Z" fill="#fff"/></g></svg><span class="t" style="left:955.0px;top:2064.5px;font-size:28.80px;font-weight:700;color:#2c4358;transform:scaleX(1.1199);">-</span><div class="r" style="left:1295.4px;top:2003.9px;width:2.0px;height:110.0px;background:#ececec"></div><span class="t" style="left:1394.7px;top:2047.1px;font-size:25.70px;font-weight:700;color:#1f30c8;transform:scaleX(0.9395);">Exit</span><div class="r" style="left:1490.0px;top:2025.9px;width:242.4px;height:62.4px;box-sizing:border-box;border:2.2px solid #2233cc;border-radius:32px;background:#fff"></div><span class="t" style="left:1539.0px;top:2045.0px;font-size:26.50px;font-weight:700;color:#2233cc;transform:scaleX(0.9198);">Save criteria</span><div class="r" style="left:1766.0px;top:2025.9px;width:363.0px;height:62.4px;background:#2236dc;border-radius:32px"></div><span class="t" style="left:1815.7px;top:2045.2px;font-size:26.20px;font-weight:700;color:#fff;transform:scaleX(0.9267);">Save &amp; confirm criteria</span></div>
<span class="t" style="left:36.3px;top:2236.6px;font-size:55.30px;font-weight:400;color:#e8823a;transform:scaleX(0.9879);">Merchants can define the audience segmentation criteria to target for a customised campaign.</span>
<span class="t" style="left:2605.3px;top:2235.1px;font-size:55.40px;font-weight:400;color:#e8823a;transform:scaleX(0.9867);">A/B test different audience segment to assess the campaign performance and drive</span>
<span class="t" style="left:2605.3px;top:2302.8px;font-size:55.40px;font-weight:400;color:#e8823a;transform:scaleX(1.0088);">better targeting.</span>
</body></html>
